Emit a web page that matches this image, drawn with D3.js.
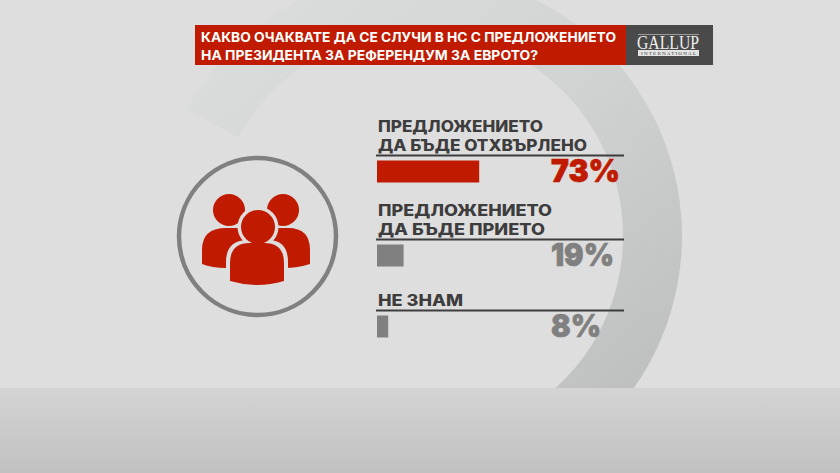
<!DOCTYPE html>
<html>
<head>
<meta charset="utf-8">
<script src="https://cdn.jsdelivr.net/npm/d3@7"></script>
<style>
  html, body { margin: 0; padding: 0; background: #dedede; }
  svg { display: block; }
  text { font-family: Inter, "Open Sans", sans-serif; }
</style>
</head>
<body>
<div id="chart"></div>
<script>
const titleLines = ["КАКВО ОЧАКВАТЕ ДА СЕ СЛУЧИ В НС С ПРЕДЛОЖЕНИЕТО", "НА ПРЕЗИДЕНТА ЗА РЕФЕРЕНДУМ ЗА ЕВРОТО?"];
const categories = ["Отхвърлено", "Прието", "Не знам"];
const categoryLines = [["ПРЕДЛОЖЕНИЕТО", "ДА БЪДЕ ОТХВЪРЛЕНО"], ["ПРЕДЛОЖЕНИЕТО", "ДА БЪДЕ ПРИЕТО"], ["НЕ ЗНАМ"]];
const values = [73, 19, 8];

const width = 840, height = 473;
const red = "#c01b00", grey = "#808080", dark = "#3d3d3d";

const svg = d3.select("#chart").append("svg")
    .attr("width", width)
    .attr("height", height);

const defs = svg.append("defs");

// gradient coords are relative to the ring centre, the ring path is translated
const ringGrad = defs.append("linearGradient")
    .attr("id", "ringGrad")
    .attr("gradientUnits", "userSpaceOnUse")
    .attr("x1", -118).attr("y1", -236)
    .attr("x2", 202).attr("y2", 154);
ringGrad.append("stop").attr("offset", 0).attr("stop-color", "#dadbdb");
ringGrad.append("stop").attr("offset", 0.45).attr("stop-color", "#d2d4d4");
ringGrad.append("stop").attr("offset", 1).attr("stop-color", "#bfc1c1");

const bandGrad = defs.append("linearGradient")
    .attr("id", "bandGrad")
    .attr("x1", 0).attr("y1", 0)
    .attr("x2", 0).attr("y2", 1);
bandGrad.append("stop").attr("offset", 0).attr("stop-color", "#d4d4d4");
bandGrad.append("stop").attr("offset", 1).attr("stop-color", "#c1c1c1");

// background
svg.append("rect")
    .attr("width", width)
    .attr("height", height)
    .attr("fill", "#dedede");

// big ring behind everything
svg.append("path")
    .attr("transform", "translate(418,236)")
    .attr("d", d3.arc()
        .innerRadius(205)
        .outerRadius(264)
        .startAngle(-Math.PI * 0.34)
        .endAngle(Math.PI * 0.85)())
    .attr("fill", "url(#ringGrad)");

svg.append("rect")
    .attr("x", 0)
    .attr("y", 388)
    .attr("width", width)
    .attr("height", height - 388)
    .attr("fill", "url(#bandGrad)");

// title bar
svg.append("rect")
    .attr("x", 195).attr("y", 25)
    .attr("width", 431).attr("height", 40)
    .attr("fill", red);
svg.append("rect")
    .attr("x", 626).attr("y", 25)
    .attr("width", 87).attr("height", 40)
    .attr("fill", "#4a4a4a");

const titleWidths = [415, 337];
svg.selectAll(".title")
    .data(titleLines)
    .enter()
    .append("text")
        .attr("class", "title")
        .attr("x", 201)
        .attr("y", (d, i) => 41.5 + i * 18)
        .attr("textLength", (d, i) => titleWidths[i])
        .attr("lengthAdjust", "spacingAndGlyphs")
        .attr("font-size", 13.5)
        .attr("font-weight", 700)
        .attr("fill", "#ffffff")
        .text((d) => d);

// gallup logo
svg.append("line")
    .attr("x1", 638).attr("x2", 699)
    .attr("y1", 34.5).attr("y2", 34.5)
    .attr("stroke", "#bdbdbd")
    .attr("stroke-width", 0.7);
svg.append("text")
    .attr("x", 637)
    .attr("y", 48.5)
    .attr("textLength", 62)
    .attr("lengthAdjust", "spacingAndGlyphs")
    .attr("font-size", 18)
    .style("font-family", "'Liberation Serif', serif")
    .attr("fill", "#f0f0f0")
    .text("GALLUP");
svg.append("rect")
    .attr("x", 638).attr("y", 50)
    .attr("width", 61).attr("height", 6)
    .attr("fill", "#e4e4e4");
svg.append("text")
    .attr("x", 641)
    .attr("y", 55)
    .attr("textLength", 55)
    .attr("font-size", 5)
    .style("font-family", "'Liberation Serif', serif")
    .attr("fill", "#333333")
    .text("INTERNATIONAL");

// people icon in a circle
const icon = svg.append("g");
icon.append("circle")
    .attr("cx", 257.5).attr("cy", 236.5).attr("r", 78.5)
    .attr("fill", "none")
    .attr("stroke", grey)
    .attr("stroke-width", 4.5);
icon.selectAll(".head")
    .data([[229, 210, 16], [283, 210, 16]])
    .enter()
    .append("circle")
        .attr("cx", (d) => d[0])
        .attr("cy", (d) => d[1])
        .attr("r", (d) => d[2])
        .attr("fill", red);
icon.append("path")
    .attr("d", "M202 264V250Q202 228 226 228H288Q310 228 310 250V264Q298 268 284 268H226Q212 268 202 264Z")
    .attr("fill", red);
icon.append("circle")
    .attr("cx", 258).attr("cy", 227).attr("r", 20.5)
    .attr("fill", "#dedede");
icon.append("path")
    .attr("d", "M226 272V262Q226 240 248 240H268Q288 240 288 262V272Z")
    .attr("fill", "#dedede");
icon.append("circle")
    .attr("cx", 258).attr("cy", 227).attr("r", 17)
    .attr("fill", red);
icon.append("path")
    .attr("d", "M230 281V263Q230 243 250 243H264Q284 243 284 263V281Q257 289 230 281Z")
    .attr("fill", red);

// scales
const x = d3.scaleLinear()
    .domain([0, 100])
    .range([377, 517]);

const ruleY = d3.scaleOrdinal()
    .domain(categories)
    .range([155.5, 239.5, 310.5]);

const colour = d3.scaleOrdinal()
    .domain(categories)
    .range([red, grey, grey]);

const rows = categories.map((c, i) => ({ name: c, lines: categoryLines[i], value: values[i] }));
const lineWidths = [[165, 209], [174, 167], [85]];

// rule lines
svg.selectAll(".rule")
    .data(rows)
    .enter()
    .append("line")
        .attr("class", "rule")
        .attr("x1", 376)
        .attr("x2", 624)
        .attr("y1", (d) => ruleY(d.name))
        .attr("y2", (d) => ruleY(d.name))
        .attr("stroke", dark)
        .attr("stroke-width", 2);

// bars
svg.selectAll(".bar")
    .data(rows)
    .enter()
    .append("rect")
        .attr("class", "bar")
        .attr("x", x(0))
        .attr("y", (d) => ruleY(d.name) + 5)
        .attr("width", (d) => x(d.value) - x(0))
        .attr("height", 22)
        .attr("fill", (d) => colour(d.name));

// category labels
rows.forEach((row, r) => {
    svg.selectAll(".label" + r)
        .data(row.lines)
        .enter()
        .append("text")
            .attr("class", "label" + r)
            .attr("x", 378)
            .attr("y", (d, i) => ruleY(row.name) - 4.5 - (row.lines.length - 1 - i) * 19)
            .attr("textLength", (d, i) => lineWidths[r][i])
            .attr("lengthAdjust", "spacingAndGlyphs")
            .attr("font-size", 15.5)
            .attr("font-weight", 800)
            .attr("fill", dark)
            .text((d) => d);
});

// percentages, the stroke thickens them a bit towards the original heavy font
const pctWidths = [69, 63, 50];
svg.selectAll(".pct")
    .data(rows)
    .enter()
    .append("text")
        .attr("class", "pct")
        .attr("x", 551)
        .attr("y", (d) => ruleY(d.name) + 26.5)
        .attr("textLength", (d, i) => pctWidths[i])
        .attr("lengthAdjust", "spacingAndGlyphs")
        .attr("font-size", 32)
        .attr("font-weight", 900)
        .attr("fill", (d) => colour(d.name))
        .attr("stroke", (d) => colour(d.name))
        .attr("stroke-width", 0.7)
        .text((d) => d.value + "%");
</script>
</body>
</html>
